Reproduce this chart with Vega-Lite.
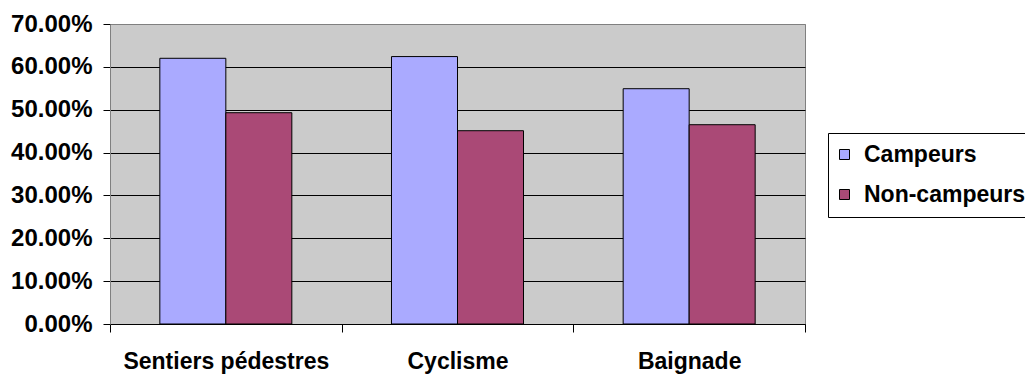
{
  "$schema": "https://vega.github.io/schema/vega-lite/v6.json",
  "width": 695,
  "height": 300,
  "autosize": {"type": "none"},
  "padding": {"left": 110, "top": 24, "right": 220, "bottom": 50},
  "background": "white",
  "data": {
    "values": [
      {"activite": "Sentiers pédestres", "groupe": "Campeurs", "valeur": 0.620},
      {"activite": "Sentiers pédestres", "groupe": "Non-campeurs", "valeur": 0.493},
      {"activite": "Cyclisme", "groupe": "Campeurs", "valeur": 0.624},
      {"activite": "Cyclisme", "groupe": "Non-campeurs", "valeur": 0.451},
      {"activite": "Baignade", "groupe": "Campeurs", "valeur": 0.549},
      {"activite": "Baignade", "groupe": "Non-campeurs", "valeur": 0.465}
    ]
  },
  "mark": {"type": "bar", "stroke": "black", "strokeWidth": 1},
  "encoding": {
    "x": {
      "field": "activite",
      "type": "nominal",
      "sort": ["Sentiers pédestres", "Cyclisme", "Baignade"],
      "scale": {"paddingInner": 0, "paddingOuter": 0},
      "axis": {
        "title": null,
        "labelAngle": 0,
        "tickBand": "extent",
        "tickSize": 8,
        "tickColor": "black",
        "domainColor": "black",
        "labelFont": "Liberation Sans",
        "labelFontWeight": "bold",
        "labelFontSize": 23,
        "labelColor": "black",
        "labelPadding": 18,
        "labelLimit": 400,
        "grid": false
      }
    },
    "xOffset": {
      "field": "groupe",
      "type": "nominal",
      "scale": {"paddingInner": 0, "paddingOuter": 0.755}
    },
    "y": {
      "field": "valeur",
      "type": "quantitative",
      "scale": {"domain": [0, 0.7], "nice": false},
      "axis": {
        "title": null,
        "format": ".2%",
        "values": [0, 0.1, 0.2, 0.3, 0.4, 0.5, 0.6, 0.7],
        "labelFont": "Liberation Sans",
        "labelFontWeight": "bold",
        "labelFontSize": 24,
        "labelColor": "black",
        "labelPadding": 11,
        "tickSize": 7,
        "tickColor": "black",
        "domainColor": "#808080",
        "grid": true,
        "gridColor": {"condition": {"test": "datum.value >= 0.7", "value": "#808080"}, "value": "black"},
        "gridOpacity": 1
      }
    },
    "color": {
      "field": "groupe",
      "type": "nominal",
      "scale": {"domain": ["Campeurs", "Non-campeurs"], "range": ["#aaaaff", "#aa4976"]},
      "legend": {
        "title": null,
        "orient": "none",
        "legendX": 718,
        "legendY": 109,
        "symbolType": "square",
        "symbolSize": 100,
        "symbolStrokeColor": "black",
        "symbolStrokeWidth": 1,
        "symbolOffset": -5,
        "labelFont": "Liberation Sans",
        "labelFontWeight": "bold",
        "labelFontSize": 23,
        "labelColor": "black",
        "labelOffset": 8,
        "rowPadding": 16,
        "padding": 10,
        "strokeColor": "black",
        "fillColor": "white",
        "labelLimit": 300
      }
    }
  },
  "config": {
    "view": {"fill": "#cbcbcb", "stroke": "#808080"}
  }
}
